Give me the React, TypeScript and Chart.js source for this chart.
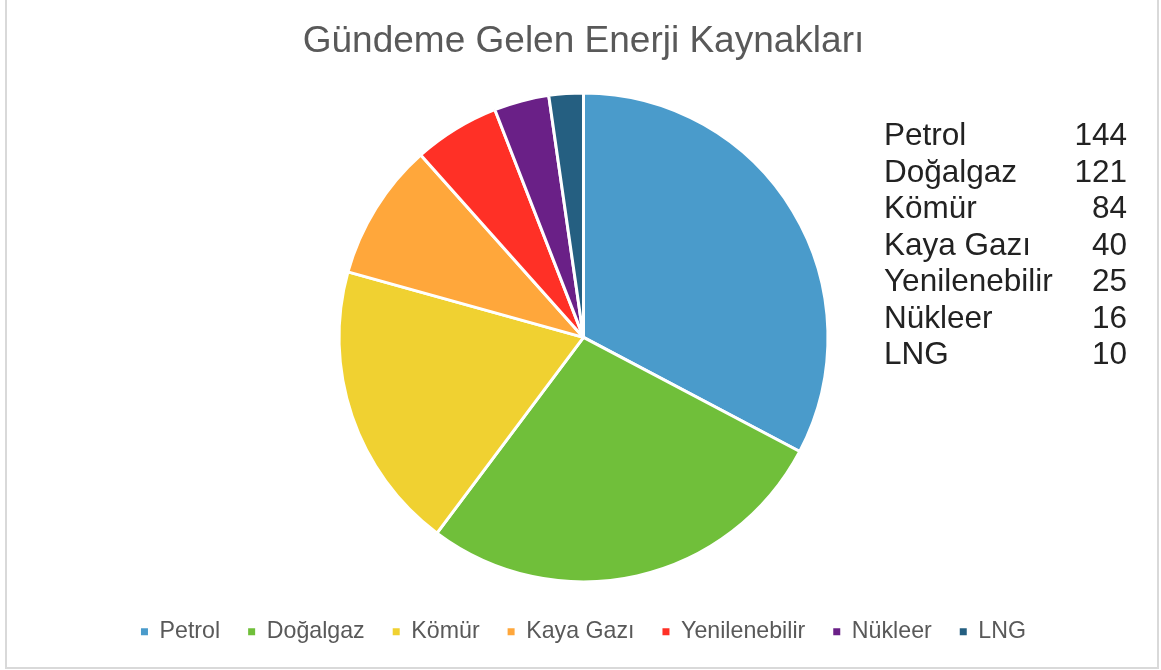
import React, { useEffect, useRef } from "react";
import { Chart, registerables } from "chart.js";

Chart.register(...registerables);

const TITLE = "Gündeme Gelen Enerji Kaynakları";
const categories = ["Petrol", "Doğalgaz", "Kömür", "Kaya Gazı", "Yenilenebilir", "Nükleer", "LNG"];
const values = [144, 121, 84, 40, 25, 16, 10];
const colors = ["#4A9BCB", "#70BF3A", "#F0D131", "#FFA73B", "#FF3026", "#6A2087", "#255F81"];

const FONT = "'Liberation Sans', Arial, Helvetica, sans-serif";

export default function App() {
  const ref = useRef<HTMLCanvasElement>(null);

  useEffect(() => {
    const baseGen = (Chart as any).overrides.doughnut.plugins.legend.labels.generateLabels;
    const chart = new Chart(ref.current!, {
      type: "pie",
      data: {
        labels: categories,
        datasets: [
          {
            data: values,
            backgroundColor: colors,
            borderColor: "#ffffff",
            borderWidth: 3,
            radius: 244.5,
          } as any,
        ],
      },
      options: {
        responsive: false,
        animation: false,
        devicePixelRatio: 1,
        layout: { padding: { left: 6, right: 0, top: 0, bottom: 16.6 } },
        plugins: {
          title: {
            display: true,
            text: TITLE,
            color: "#595959",
            font: { family: FONT, size: 37, weight: "normal", lineHeight: 1.2 },
            padding: { top: 19.5, bottom: 18.7 },
          },
          legend: {
            position: "bottom",
            labels: {
              boxWidth: 7,
              boxHeight: 7,
              padding: 28,
              color: "#595959",
              font: { family: FONT, size: 23.2 },
              generateLabels: (c: any) =>
                baseGen(c).map((l: any) => ({ ...l, lineWidth: 0, strokeStyle: l.fillStyle })),
            },
          },
          tooltip: { enabled: false },
        },
      } as any,
    });
    return () => chart.destroy();
  }, []);

  return (
    <div style={{ position: "fixed", left: 0, top: 0, width: 1161, height: 670, background: "#fff", overflow: "hidden" }}>
      <canvas ref={ref} width={1161} height={670} style={{ position: "absolute", left: 0, top: 0 }} />
      <div
        style={{
          position: "absolute",
          left: 5,
          top: -10,
          width: 1154,
          height: 679,
          boxSizing: "border-box",
          border: "2px solid #d9d9d9",
          pointerEvents: "none",
        }}
      />
      <div
        style={{
          position: "absolute",
          left: 884,
          top: 116,
          width: 243,
          fontFamily: FONT,
          fontSize: 31.5,
          lineHeight: "36.5px",
          color: "#222",
        }}
      >
        {categories.map((c, i) => (
          <div key={c} style={{ display: "flex", justifyContent: "space-between", whiteSpace: "nowrap" }}>
            <span>{c}</span>
            <span>{values[i]}</span>
          </div>
        ))}
      </div>
    </div>
  );
}
